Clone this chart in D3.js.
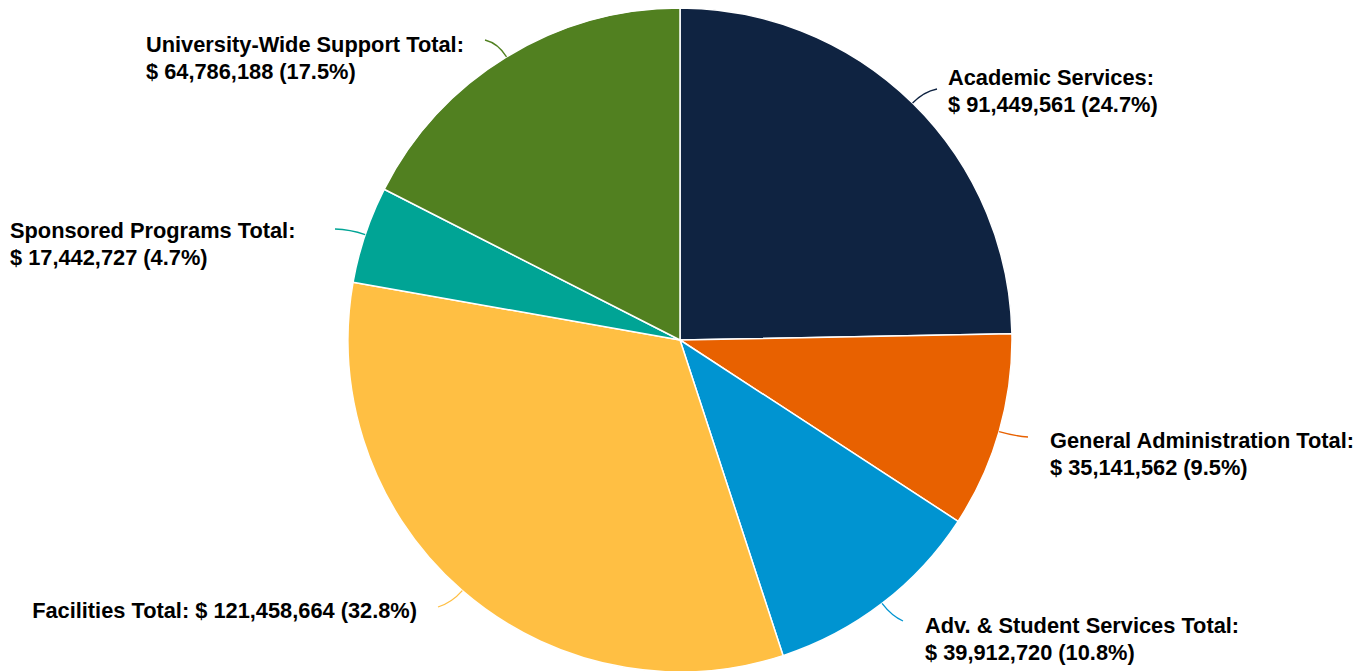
<!DOCTYPE html>
<html>
<head>
<meta charset="utf-8">
<script src="https://cdn.jsdelivr.net/npm/d3@7"></script>
<style>
  html, body { margin: 0; padding: 0; background: #fff; }
  svg text { font-family: "Liberation Sans", Arial, sans-serif; font-weight: bold; fill: #000; }
</style>
</head>
<body>
<svg id="chart" width="1372" height="671"></svg>
<script>
// Budget categories, clockwise from 12 o'clock
const categories = [
  "Academic Services:",
  "General Administration Total:",
  "Adv. & Student Services Total:",
  "Facilities Total:",
  "Sponsored Programs Total:",
  "University-Wide Support Total:"
];
const amounts = [91449561, 35141562, 39912720, 121458664, 17442727, 64786188];
const colors = ["#0f2341", "#e86100", "#0094d1", "#ffbf43", "#00a495", "#518020"];

// Label placement: connector end (ex, ey), text anchor (tx, first baseline ty)
const labelLayout = [
  { ex: 937, ey: 89,  tx: 948,  ty: 85,  anchor: "start", lines: 2 },
  { ex: 1028, ey: 437, tx: 1050, ty: 448, anchor: "start", lines: 2 },
  { ex: 903, ey: 621, tx: 925,  ty: 633, anchor: "start", lines: 2 },
  { ex: 438, ey: 607, tx: 417,  ty: 618, anchor: "end",   lines: 1 },
  { ex: 335, ey: 229, tx: 10,   ty: 238, anchor: "start", lines: 2 },
  { ex: 485, ey: 40,  tx: 146,  ty: 52,  anchor: "start", lines: 2 }
];

const cx = 680, cy = 340, radius = 332;
const fontSize = 21.8, lineGap = 27;

const svg = d3.select("#chart");
const g = svg.append("g").attr("transform", `translate(${cx},${cy})`);

const total = d3.sum(amounts);
const data = categories.map((c, i) => ({ name: c, value: amounts[i], color: colors[i], layout: labelLayout[i] }));

const pie = d3.pie().value(d => d.value).sort(null);
const arc = d3.arc().innerRadius(0).outerRadius(radius);
const arcs = pie(data);

g.selectAll("path.slice")
  .data(arcs)
  .join("path")
  .attr("class", "slice")
  .attr("d", arc)
  .attr("fill", d => d.data.color)
  .attr("stroke", "#fff")
  .attr("stroke-width", 1.5)
  .attr("stroke-linejoin", "round");

const fmt = d3.format(",");
const pct = v => (v / total * 100).toFixed(1) + "%";

// Connectors: curve outward from the slice edge to the label
arcs.forEach(a => {
  const mid = (a.startAngle + a.endAngle) / 2;
  const sx = Math.sin(mid) * radius, sy = -Math.cos(mid) * radius;
  const kx = Math.sin(mid) * (radius + 16), ky = -Math.cos(mid) * (radius + 16);
  const ex = a.data.layout.ex - cx, ey = a.data.layout.ey - cy;
  g.append("path")
    .attr("d", `M${sx},${sy} Q${kx},${ky} ${ex},${ey}`)
    .attr("fill", "none")
    .attr("stroke", a.data.color)
    .attr("stroke-width", 1.3);
});

// Labels
arcs.forEach(a => {
  const L = a.data.layout;
  const valueText = `$ ${fmt(a.data.value)} (${pct(a.data.value)})`;
  const t = svg.append("text")
    .attr("text-anchor", L.anchor)
    .style("font-size", fontSize + "px");
  if (L.lines === 2) {
    [a.data.name, valueText].forEach((s, i) =>
      t.append("tspan").attr("x", L.tx).attr("y", L.ty + i * lineGap).text(s));
  } else {
    t.attr("x", L.tx).attr("y", L.ty).text(`${a.data.name} ${valueText}`);
  }
});
</script>
</body>
</html>
